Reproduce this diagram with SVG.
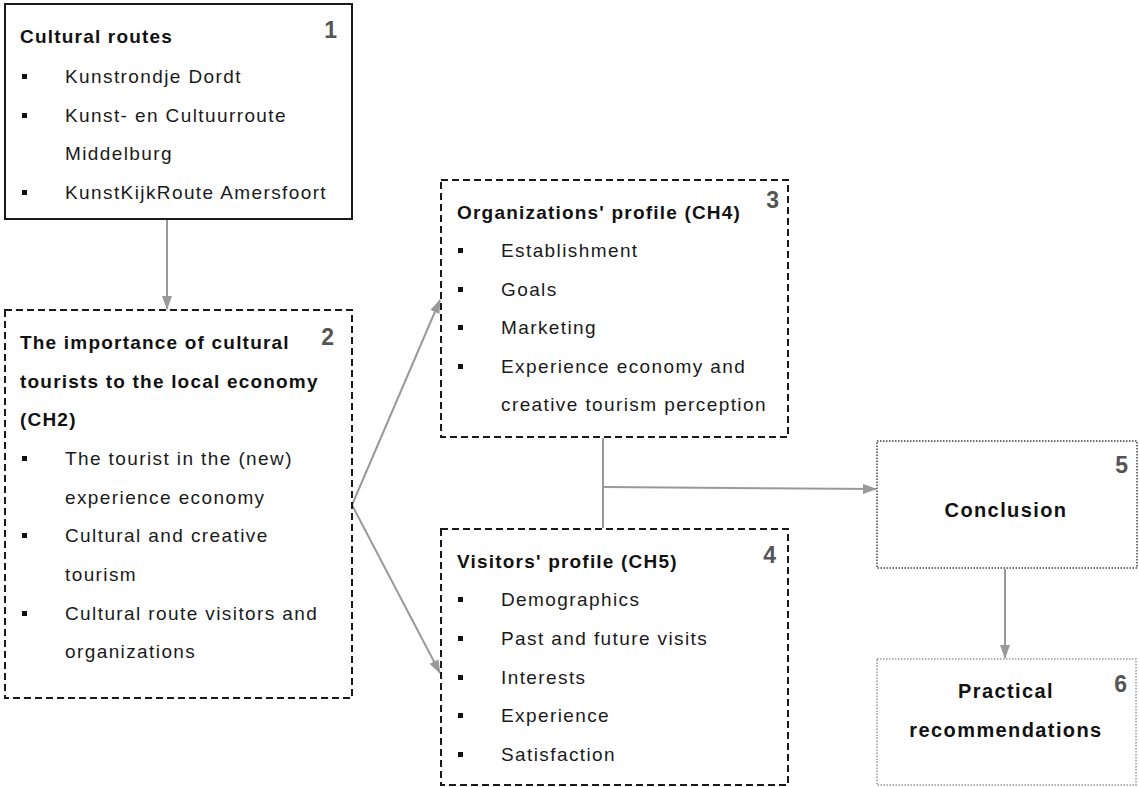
<svg xmlns="http://www.w3.org/2000/svg" width="1139" height="787" viewBox="0 0 1139 787">
<style>
  .t { font-family: "Liberation Sans", Arial, sans-serif; font-size: 19px; fill: #1a1a1a; letter-spacing: 1.4px; }
  .b { font-family: "Liberation Sans", Arial, sans-serif; font-size: 19px; font-weight: bold; fill: #111; letter-spacing: 1.2px; }
  .c { font-family: "Liberation Sans", Arial, sans-serif; font-size: 20px; font-weight: bold; fill: #111; letter-spacing: 1.4px; text-anchor: middle; }
  .n { font-family: "Liberation Sans", Arial, sans-serif; font-size: 23px; font-weight: bold; fill: #555; text-anchor: end; }
  .solid { fill: #fff; stroke: #1a1a1a; stroke-width: 2; }
  .dash { fill: #fff; stroke: #1a1a1a; stroke-width: 2; stroke-dasharray: 7 4; }
  .dot { fill: #fff; stroke: #444; stroke-width: 1.5; stroke-dasharray: 1.5 1.5; }
  .dot2 { fill: #fff; stroke: #999; stroke-width: 1.5; stroke-dasharray: 1.5 1.5; }
  .conn { fill: none; stroke: #999; stroke-width: 2; }
  .bul { fill: #111; }
</style>
<defs>
  <marker id="arr" viewBox="0 0 14 10" refX="13" refY="5" markerWidth="14" markerHeight="10" markerUnits="userSpaceOnUse" orient="auto">
    <path d="M0,0 L14,5 L0,10 Z" fill="#999"/>
  </marker>
</defs>
<rect width="1139" height="787" fill="#fff"/>

<g id="connectors">
  <line class="conn" x1="167" y1="220" x2="167" y2="309" marker-end="url(#arr)"/>
  <line class="conn" x1="352" y1="505" x2="440" y2="300" marker-end="url(#arr)"/>
  <line class="conn" x1="352" y1="505" x2="440" y2="673" marker-end="url(#arr)"/>
  <line class="conn" x1="603" y1="438" x2="603" y2="528"/>
  <line class="conn" x1="603" y1="487" x2="876" y2="489" marker-end="url(#arr)"/>
  <line class="conn" x1="1005" y1="569" x2="1005" y2="658" marker-end="url(#arr)"/>
</g>

<g id="node1">
  <rect class="solid" x="5" y="4" width="347" height="215"/>
  <text class="b" x="20" y="43">Cultural routes</text>
  <text class="n" x="337" y="38">1</text>
  <rect class="bul" x="22" y="74" width="5" height="5"/>
  <text class="t" x="65" y="83">Kunstrondje Dordt</text>
  <rect class="bul" x="22" y="113" width="5" height="5"/>
  <text class="t" x="65" y="122">Kunst- en Cultuurroute</text>
  <text class="t" x="65" y="160">Middelburg</text>
  <rect class="bul" x="22" y="190" width="5" height="5"/>
  <text class="t" x="65" y="199">KunstKijkRoute Amersfoort</text>
</g>

<g id="node2">
  <rect class="dash" x="5" y="310" width="347" height="388"/>
  <text class="b" x="20" y="349">The importance of cultural</text>
  <text class="b" x="20" y="388">tourists to the local economy</text>
  <text class="b" x="20" y="426">(CH2)</text>
  <text class="n" x="334" y="345">2</text>
  <rect class="bul" x="22" y="456" width="5" height="5"/>
  <text class="t" x="65" y="465">The tourist in the (new)</text>
  <text class="t" x="65" y="504">experience economy</text>
  <rect class="bul" x="22" y="533" width="5" height="5"/>
  <text class="t" x="65" y="542">Cultural and creative</text>
  <text class="t" x="65" y="581">tourism</text>
  <rect class="bul" x="22" y="611" width="5" height="5"/>
  <text class="t" x="65" y="620">Cultural route visitors and</text>
  <text class="t" x="65" y="658">organizations</text>
</g>

<g id="node3">
  <rect class="dash" x="441" y="180" width="347" height="257"/>
  <text class="b" x="457" y="219">Organizations' profile (CH4)</text>
  <text class="n" x="779" y="208">3</text>
  <rect class="bul" x="458" y="248" width="5" height="5"/>
  <text class="t" x="501" y="257">Establishment</text>
  <rect class="bul" x="458" y="287" width="5" height="5"/>
  <text class="t" x="501" y="296">Goals</text>
  <rect class="bul" x="458" y="325" width="5" height="5"/>
  <text class="t" x="501" y="334">Marketing</text>
  <rect class="bul" x="458" y="364" width="5" height="5"/>
  <text class="t" x="501" y="373">Experience economy and</text>
  <text class="t" x="501" y="411">creative tourism perception</text>
</g>

<g id="node4">
  <rect class="dash" x="441" y="529" width="347" height="256"/>
  <text class="b" x="457" y="568">Visitors' profile (CH5)</text>
  <text class="n" x="776" y="563">4</text>
  <rect class="bul" x="458" y="597" width="5" height="5"/>
  <text class="t" x="501" y="606">Demographics</text>
  <rect class="bul" x="458" y="636" width="5" height="5"/>
  <text class="t" x="501" y="645">Past and future visits</text>
  <rect class="bul" x="458" y="675" width="5" height="5"/>
  <text class="t" x="501" y="684">Interests</text>
  <rect class="bul" x="458" y="713" width="5" height="5"/>
  <text class="t" x="501" y="722">Experience</text>
  <rect class="bul" x="458" y="752" width="5" height="5"/>
  <text class="t" x="501" y="761">Satisfaction</text>
</g>

<g id="node5">
  <rect class="dot" x="877" y="441" width="260" height="127"/>
  <text class="c" x="1006" y="517">Conclusion</text>
  <text class="n" x="1128" y="473">5</text>
</g>

<g id="node6">
  <rect class="dot2" x="877" y="659" width="259" height="126"/>
  <text class="c" x="1006" y="698">Practical</text>
  <text class="c" x="1006" y="737">recommendations</text>
  <text class="n" x="1127" y="692">6</text>
</g>
</svg>
